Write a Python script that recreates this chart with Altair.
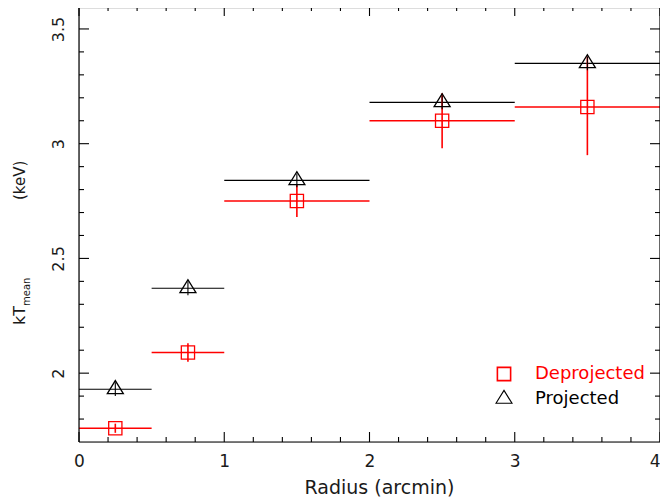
import altair as alt
import pandas as pd

# ---- data ----
bin_lo = [0.0, 0.5, 1.0, 2.0, 3.0]
bin_hi = [0.5, 1.0, 2.0, 3.0, 4.0]
radius = [0.25, 0.75, 1.5, 2.5, 3.5]
kt_proj = [1.93, 2.37, 2.84, 3.18, 3.35]
kt_proj_err = [0.03, 0.03, 0.03, 0.03, 0.03]
kt_deproj = [1.76, 2.09, 2.75, 3.10, 3.16]
kt_deproj_lo = [0.02, 0.04, 0.07, 0.12, 0.21]
kt_deproj_hi = [0.02, 0.04, 0.07, 0.12, 0.22]
series = ["Deprojected", "Projected"]
colors = ["#ff0000", "#000000"]

x_major = [0, 1, 2, 3, 4]
x_minor = [0.2, 0.4, 0.6, 0.8, 1.2, 1.4, 1.6, 1.8, 2.2, 2.4, 2.6, 2.8, 3.2, 3.4, 3.6, 3.8]
y_major = [2.0, 2.5, 3.0, 3.5]
y_minor = [1.8, 1.9, 2.1, 2.2, 2.3, 2.4, 2.6, 2.7, 2.8, 2.9, 3.1, 3.2, 3.3, 3.4]
title_parts = ["kT", "mean", "(keV)"]

rows = []
for i in range(5):
    rows.append(dict(series="Deprojected", r=radius[i], lo=bin_lo[i], hi=bin_hi[i],
                     kt=kt_deproj[i], ktlo=kt_deproj[i] - kt_deproj_lo[i], kthi=kt_deproj[i] + kt_deproj_hi[i]))
for i in range(5):
    rows.append(dict(series="Projected", r=radius[i], lo=bin_lo[i], hi=bin_hi[i],
                     kt=kt_proj[i], ktlo=kt_proj[i] - kt_proj_err[i], kthi=kt_proj[i] + kt_proj_err[i]))
df = pd.DataFrame(rows)

W, H = 581, 434
PADL = 71
FONT = "DejaVu Sans"
TXT = "#1a1a1a"
TRI = "M-1,0.54L0,-1.08L1,0.54Z"

xs = alt.Scale(domain=[0, 4], nice=False, zero=False)
ys = alt.Scale(domain=[1.7, 3.6], range=[H, -2], nice=False, zero=False)

xaxis = alt.Axis(values=x_major, format="d", domain=False, ticks=False, grid=False,
                 labelFlush=False, labelOverlap=False,
                 labelAlign={"condition": {"test": "datum.value == 4", "value": "right"}, "value": "center"},
                 labelFont=FONT, labelFontSize=17, labelColor=TXT, labelPadding=11,
                 title="Radius (arcmin)", titleFont=FONT, titleFontSize=19,
                 titleFontWeight="normal", titleColor=TXT, titlePadding=9,
                 titleX=300, titleAlign="center")
yaxis = alt.Axis(values=y_major, format="~g", domain=False, ticks=False, grid=False,
                 labelFlush=False, labelOverlap=False,
                 labelFont=FONT, labelFontSize=16, labelColor=TXT, labelAngle=270,
                 labelAlign="center", labelBaseline="bottom", labelPadding=13, title=None)

legend = alt.Legend(title=None, orient="none", legendX=416, legendY=357,
                    labelFont=FONT, labelFontSize=18,
                    labelColor={"expr": "datum.label == 'Deprojected' ? '#ff0000' : '#000000'"},
                    labelOffset=22, rowPadding=4, symbolStrokeWidth=1.3, padding=0)

color = alt.Color("series:N", scale=alt.Scale(domain=series, range=colors), legend=legend)
sw = alt.StrokeWidth("series:N", scale=alt.Scale(domain=series, range=[1.6, 1.1]), legend=None)

base = alt.Chart(df)

hbar = base.mark_rule().encode(
    x=alt.X("lo:Q", scale=xs, axis=xaxis),
    x2="hi:Q",
    y=alt.Y("kt:Q", scale=ys, axis=yaxis),
    color=color, strokeWidth=sw,
)
vbar = base.mark_rule().encode(
    x=alt.X("r:Q", scale=xs, axis=xaxis),
    y=alt.Y("ktlo:Q", scale=ys, axis=yaxis),
    y2="kthi:Q",
    color=color, strokeWidth=sw,
)
pts = base.mark_point(filled=False, strokeWidth=1.3, opacity=1).encode(
    x=alt.X("r:Q", scale=xs, axis=xaxis),
    y=alt.Y("kt:Q", scale=ys, axis=yaxis),
    color=color,
    shape=alt.Shape("series:N", scale=alt.Scale(domain=series, range=["square", TRI]), legend=legend),
    size=alt.Size("series:N", scale=alt.Scale(domain=series, range=[175, 256]), legend=legend),
)

# frame
frame = alt.Chart(pd.DataFrame({"a": [0]})).mark_rule(color="#000", strokeWidth=1.2)
f_bottom = frame.encode(x=alt.X(datum=0, scale=xs, axis=xaxis), x2=alt.X2(datum=4), y=alt.Y(datum=1.7, scale=ys, axis=yaxis))
f_top = frame.encode(x=alt.X(datum=0, scale=xs, axis=xaxis), x2=alt.X2(datum=4), y=alt.Y(datum=3.6, scale=ys, axis=yaxis))
f_left = frame.encode(x=alt.X(datum=0, scale=xs, axis=xaxis), y=alt.Y(datum=1.7, scale=ys, axis=yaxis), y2=alt.Y2(datum=3.6))
f_right = frame.encode(x=alt.X(datum=4, scale=xs, axis=xaxis), y=alt.Y(datum=1.7, scale=ys, axis=yaxis), y2=alt.Y2(datum=3.6))

# ticks on four sides
def xticks(vals, ln):
    c = alt.Chart(pd.DataFrame({"v": vals})).mark_rule(color="#000", strokeWidth=1.1)
    b = c.encode(x=alt.X("v:Q", scale=xs, axis=xaxis), y=alt.value(H), y2=alt.value(H - ln))
    t = c.encode(x=alt.X("v:Q", scale=xs, axis=xaxis), y=alt.value(-2), y2=alt.value(-2 + ln))
    return [b, t]

def yticks(vals, ln):
    c = alt.Chart(pd.DataFrame({"v": vals})).mark_rule(color="#000", strokeWidth=1.1)
    l = c.encode(y=alt.Y("v:Q", scale=ys, axis=yaxis), x=alt.value(0), x2=alt.value(ln))
    r = c.encode(y=alt.Y("v:Q", scale=ys, axis=yaxis), x=alt.value(W), x2=alt.value(W - ln))
    return [l, r]

ticks = xticks(x_major, 10) + xticks(x_minor, 5) + yticks(y_major, 10) + yticks(y_minor, 5)

# y-axis title with subscript
tdf = pd.DataFrame({"t": title_parts})
t_kt = alt.Chart(tdf).transform_filter(alt.datum.t == "kT").mark_text(
    angle=270, align="left", baseline="alphabetic", font=FONT, fontSize=16, color=TXT
).encode(text="t:N", x=alt.value(-54), y=alt.value(317))
t_mean = alt.Chart(tdf).transform_filter(alt.datum.t == "mean").mark_text(
    angle=270, align="left", baseline="alphabetic", font=FONT, fontSize=10, color=TXT
).encode(text="t:N", x=alt.value(-49), y=alt.value(298))
t_kev = alt.Chart(tdf).transform_filter(alt.datum.t == "(keV)").mark_text(
    angle=270, align="left", baseline="alphabetic", font=FONT, fontSize=15, color=TXT
).encode(text="t:N", x=alt.value(-54), y=alt.value(192))

chart = alt.layer(
    hbar, vbar, pts, f_bottom, f_top, f_left, f_right, *ticks, t_kt, t_mean, t_kev
).properties(
    width=W, height=H,
    autosize=alt.AutoSizeParams(type="none"),
    padding={"left": PADL, "top": 0, "right": 0, "bottom": 57},
).configure_view(stroke=None).configure(background="white")

chart.save("out.html", embed_options={"renderer": "svg", "actions": False})
